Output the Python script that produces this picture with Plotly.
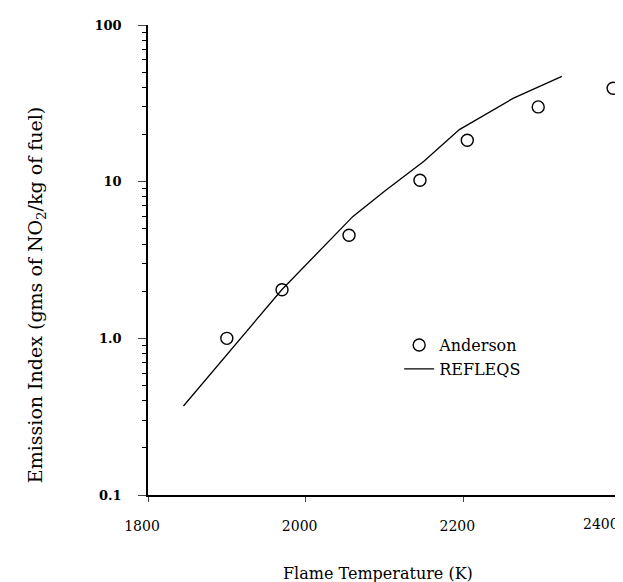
import plotly.graph_objects as go

# Anderson experimental data
anderson_T = [1900, 1970, 2055, 2145, 2205, 2295, 2390]
anderson_EI = [1.0, 2.04, 4.55, 10.2, 18.4, 30.0, 39.5]

# REFLEQS prediction
refleqs_T = [1845, 1970, 2060, 2100, 2150, 2195, 2263, 2325]
refleqs_EI = [0.37, 2.05, 6.0, 8.7, 13.5, 21.5, 34.0, 47.0]

x_ticks = [1800, 2000, 2200, 2400]
x_ticktext = ["1800", "2000", "2200", "2400"]
y_ticks = [0.1, 1, 10, 100]
y_ticktext = ["0.1", "1.0", "10", "100"]

SERIF = "DejaVu Serif"

fig = go.Figure()
fig.add_trace(go.Scatter(
    x=anderson_T, y=anderson_EI, mode="markers", name="Anderson",
    marker=dict(symbol="circle-open", size=12, color="black", line=dict(width=1.4)),
))
fig.add_trace(go.Scatter(
    x=refleqs_T, y=refleqs_EI, mode="lines", name="REFLEQS",
    line=dict(color="black", width=1.3),
))

# last x tick label sits at the page edge: draw it right-aligned so it stays inside
axis_ticktext = x_ticktext[:-1] + [""]

fig.update_layout(
    width=623, height=582,
    margin=dict(l=140, r=10, t=15, b=95),
    paper_bgcolor="white", plot_bgcolor="white",
    font=dict(family=SERIF, color="black", size=14),
    showlegend=True,
    legend=dict(
        x=0.531, y=0.355, xanchor="left", yanchor="top",
        bgcolor="rgba(0,0,0,0)", font=dict(family=SERIF, size=16),
        itemwidth=30, tracegroupgap=0,
    ),
    xaxis=dict(
        range=[1800, 2400], tickvals=x_ticks, ticktext=axis_ticktext,
        ticks="outside", ticklen=5,
        showline=True, linecolor="black", linewidth=2, showgrid=False, zeroline=False,
        tickfont=dict(family=SERIF, size=14), ticklabelstandoff=12,
        ticklabelshift=-6,
    ),
    yaxis=dict(
        type="log", range=[-1, 2], tickvals=y_ticks, ticktext=y_ticktext,
        ticks="outside", ticklen=8, showline=True, linecolor="black", linewidth=1.5,
        showgrid=False, zeroline=False,
        tickfont=dict(family=SERIF, size=13, weight="bold"), ticklabelstandoff=14,
        minor=dict(ticks="outside", ticklen=4, dtick="D1", showgrid=False, tickcolor="black"),
    ),
    annotations=[
        dict(text=x_ticktext[-1], xref="x", yref="paper",
             x=x_ticks[-1], y=-0.0614, xanchor="right", yanchor="middle",
             xshift=0, showarrow=False, font=dict(family=SERIF, size=14)),
        dict(text="Flame Temperature (K)", xref="paper", yref="paper",
             x=0.487, y=-0.166, xanchor="center", yanchor="middle", showarrow=False,
             font=dict(family=SERIF, size=16)),
        dict(text="Emission Index (gms of NO<sub>2</sub>/kg of fuel)", xref="paper", yref="paper",
             x=-0.237, y=0.425, xanchor="center", yanchor="middle", showarrow=False,
             textangle=-90, font=dict(family=SERIF, size=19)),
    ],
)

fig.write_html("out.html")
